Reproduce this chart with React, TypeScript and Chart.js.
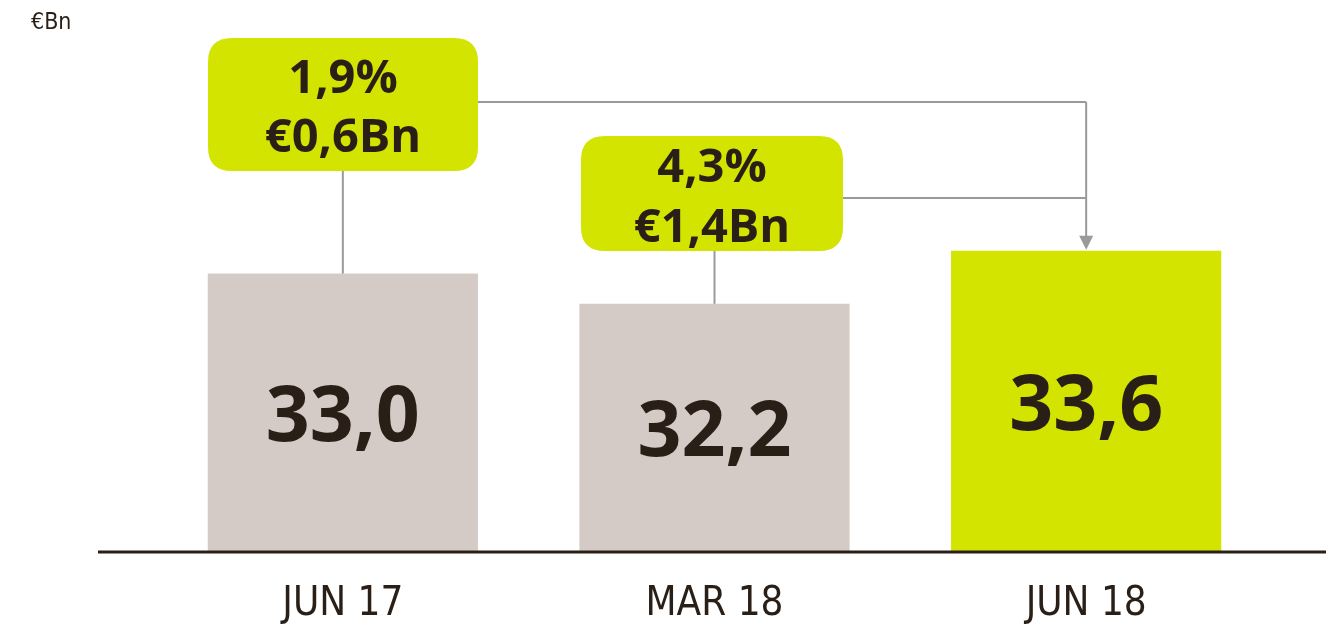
import React, { useEffect, useRef } from "react";
import { Chart, registerables } from "chart.js";

Chart.register(...registerables);

const categories = ["JUN 17", "MAR 18", "JUN 18"];
const values = [33.0, 32.2, 33.6];
const barColors = ["#d5cbc6", "#d5cbc6", "#d2e400"];
const changePct = ["1,9%", "4,3%"];
const changeAmt = ["€0,6Bn", "€1,4Bn"];
const unitLabel = "€Bn";

const DARK = "#2a1f17";
const LIME = "#d2e400";
const GREY_LINE = "#9a9a9a";

const fmt = (v: number) => v.toFixed(1).replace(".", ",");

function roundRect(ctx: CanvasRenderingContext2D, x: number, y: number, w: number, h: number, r: number) {
  ctx.beginPath();
  ctx.moveTo(x + r, y);
  ctx.lineTo(x + w - r, y);
  ctx.quadraticCurveTo(x + w, y, x + w, y + r);
  ctx.lineTo(x + w, y + h - r);
  ctx.quadraticCurveTo(x + w, y + h, x + w - r, y + h);
  ctx.lineTo(x + r, y + h);
  ctx.quadraticCurveTo(x, y + h, x, y + h - r);
  ctx.lineTo(x, y + r);
  ctx.quadraticCurveTo(x, y, x + r, y);
  ctx.closePath();
}

const decorPlugin = {
  id: "decor",
  afterDatasetsDraw(chart: any) {
    const ctx: CanvasRenderingContext2D = chart.ctx;
    const area = chart.chartArea;
    const meta = chart.getDatasetMeta(0);
    const bars = meta.data;
    ctx.save();

    // baseline
    ctx.strokeStyle = DARK;
    ctx.lineWidth = 3;
    ctx.beginPath();
    ctx.moveTo(98, area.bottom + 1);
    ctx.lineTo(chart.width, area.bottom + 1);
    ctx.stroke();

    // value labels
    ctx.fillStyle = DARK;
    ctx.textAlign = "center";
    ctx.textBaseline = "middle";
    ctx.font = "bold 77px 'Open Sans'";
    bars.forEach((b: any, i: number) => {
      const cy = (b.y + area.bottom) / 2 + 7;
      ctx.fillText(fmt(values[i]), b.x, cy);
    });

    // callout boxes
    const boxes = [
      { x: 208, y: 38, w: 270, h: 133, ly: 102, t1: 80, t2: 139 },
      { x: 581, y: 136, w: 262, h: 115, ly: 198, t1: 169, t2: 229 },
    ];
    const target = bars[2];
    const ax = target.x;

    ctx.strokeStyle = GREY_LINE;
    ctx.lineWidth = 2;
    boxes.forEach((bx, i) => {
      const b = bars[i];
      ctx.beginPath();
      ctx.moveTo(b.x, bx.y + bx.h);
      ctx.lineTo(b.x, b.y);
      ctx.stroke();
      ctx.beginPath();
      ctx.moveTo(bx.x + bx.w, bx.ly);
      ctx.lineTo(ax, bx.ly);
      ctx.stroke();
    });
    ctx.beginPath();
    ctx.moveTo(ax, boxes[0].ly);
    ctx.lineTo(ax, target.y - 13);
    ctx.stroke();
    ctx.fillStyle = GREY_LINE;
    ctx.beginPath();
    ctx.moveTo(ax - 7, target.y - 15);
    ctx.lineTo(ax + 7, target.y - 15);
    ctx.lineTo(ax, target.y - 1);
    ctx.closePath();
    ctx.fill();

    boxes.forEach((bx, i) => {
      ctx.fillStyle = LIME;
      roundRect(ctx, bx.x, bx.y, bx.w, bx.h, 24);
      ctx.fill();
      ctx.fillStyle = DARK;
      ctx.font = "bold 47px 'Open Sans'";
      ctx.textAlign = "center";
      ctx.textBaseline = "middle";
      const cx = bx.x + bx.w / 2;
      ctx.fillText(changePct[i], cx, bx.t1);
      ctx.fillText(changeAmt[i], cx, bx.t2);
    });

    // unit label
    ctx.fillStyle = DARK;
    ctx.font = "23px 'DejaVu Sans Condensed', 'Open Sans'";
    ctx.textAlign = "left";
    ctx.textBaseline = "middle";
    ctx.fillText(unitLabel, 31, 23);

    ctx.restore();
  },
};

export default function App() {
  const ref = useRef<HTMLCanvasElement | null>(null);
  useEffect(() => {
    if (!ref.current) return;
    const chart = new Chart(ref.current, {
      type: "bar",
      data: {
        labels: categories,
        datasets: [
          {
            data: values,
            backgroundColor: barColors,
            borderWidth: 0,
            barPercentage: 0.727,
            categoryPercentage: 1,
          },
        ],
      },
      options: {
        animation: false,
        responsive: true,
        maintainAspectRatio: false,
        layout: { padding: { left: 157, right: 54, top: 40, bottom: -25 } },
        plugins: { legend: { display: false }, tooltip: { enabled: false } },
        scales: {
          y: { display: false, min: 25.67, max: 39.17 },
          x: {
            grid: { display: false },
            border: { display: false },
            ticks: {
              color: DARK,
              font: { family: "'Liberation Sans Narrow', 'DejaVu Sans Condensed', Roboto", size: 40 },
              padding: 22,
            },
          },
        },
      },
      plugins: [decorPlugin],
    });
    return () => chart.destroy();
  }, []);
  return (
    <div style={{ position: "fixed", left: 0, top: 0, width: 1326, height: 626, background: "#fff" }}>
      <canvas ref={ref} />
    </div>
  );
}
